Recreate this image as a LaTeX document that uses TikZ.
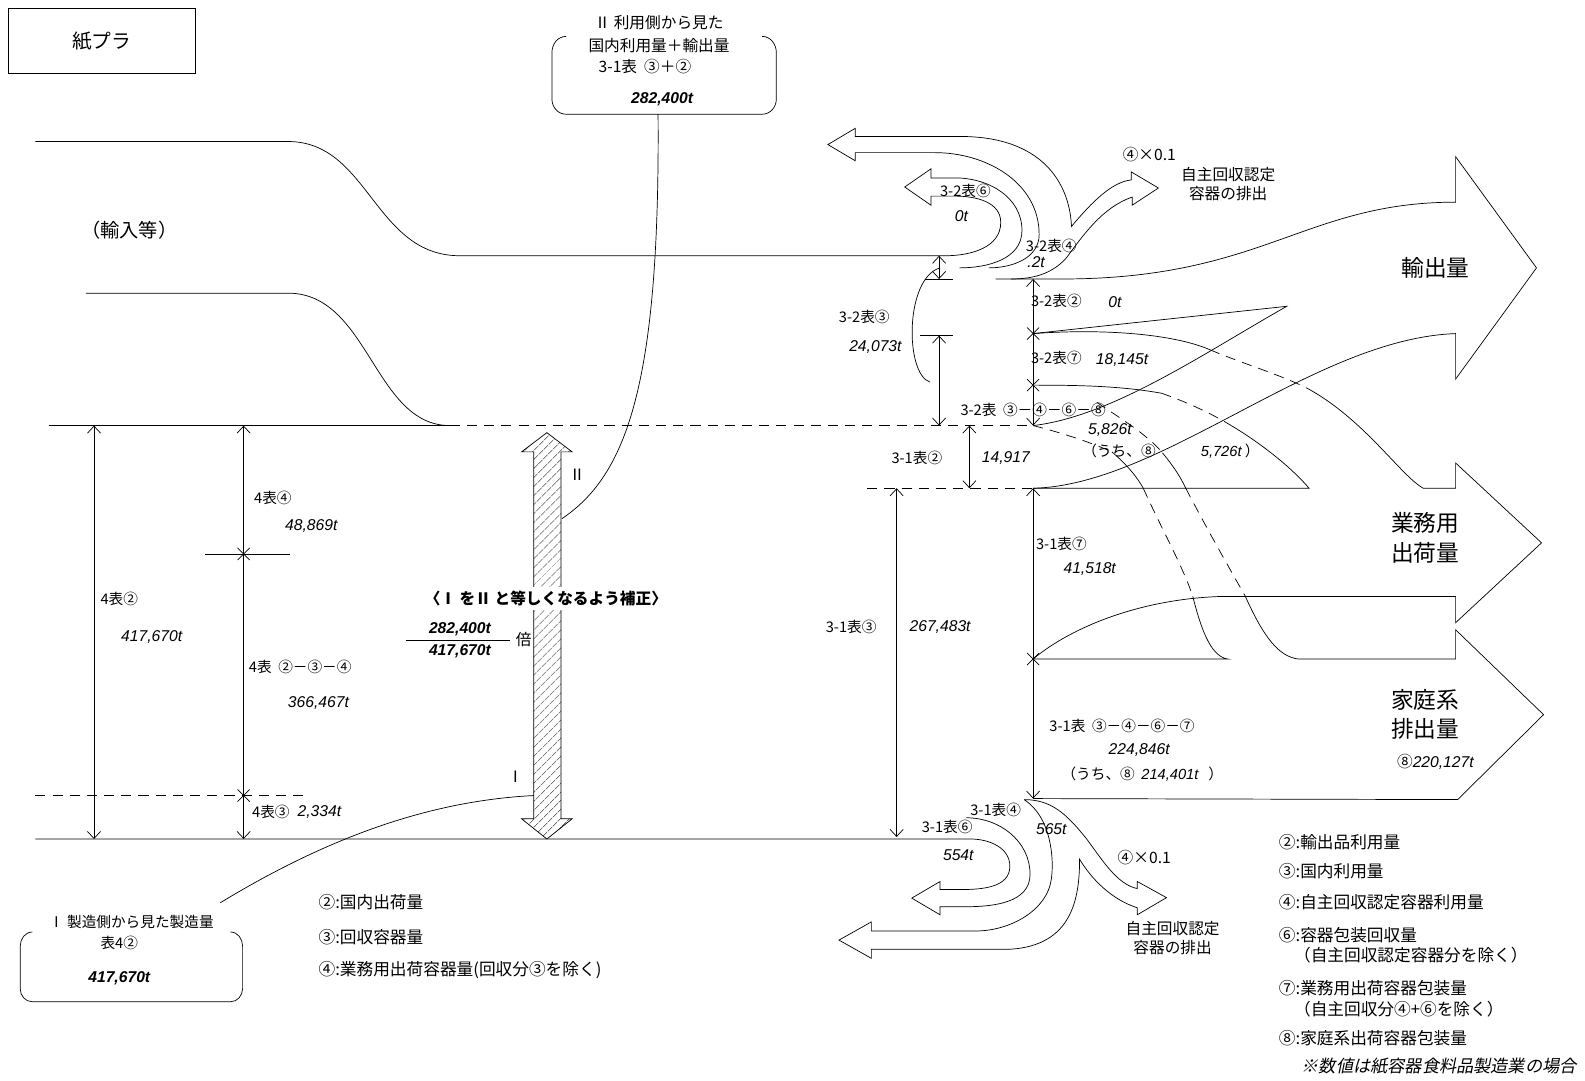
\documentclass[tikz,border=0pt]{standalone}
\usepackage{fontspec}
\setmainfont{Noto Sans CJK JP}
\newfontfamily\numfont{Liberation Sans}
\newfontfamily\slantfont{Noto Sans CJK JP}[FakeSlant=0.2]
\usetikzlibrary{arrows.meta,patterns.meta}

\tikzset{
  flow/.style={draw=black, line width=0.7pt},
  dashflow/.style={draw=black, line width=0.7pt, dash pattern=on 10pt off 7pt},
  dimline/.style={draw=black, line width=0.7pt,
    {Straight Barb[length=7pt,width=13pt]}-{Straight Barb[length=7pt,width=13pt]}},
  hatcharrow/.style={draw=black, line width=0.7pt,
    pattern={Lines[angle=45,distance=6.5pt,line width=0.5pt]}},
  lbl/.style={font=\fontsize{14.5}{16}\selectfont, inner sep=1pt},
  num/.style={font=\fontsize{15.5}{17}\selectfont\numfont\itshape, inner sep=1pt},
  bnum/.style={font=\fontsize{15.5}{17}\selectfont\numfont\bfseries\itshape, inner sep=1pt},
  boxtxt/.style={font=\fontsize{15.5}{18}\selectfont, inner sep=1pt},
  legend/.style={font=\fontsize{16.5}{19}\selectfont, anchor=west, inner sep=0pt},
  bigtxt/.style={font=\fontsize{22.5}{29}\selectfont, align=center, inner sep=0pt},
}
\newcommand{\xtick}[1]{\draw[flow] #1 +(-6,-6) -- +(6,6) #1 +(-6,6) -- +(6,-6);}
\newcommand{\itnum}[1]{{\numfont\itshape #1}}

\begin{document}
\begin{tikzpicture}[x=1pt,y=-1pt]
\useasboundingbox (0,0) rectangle (1568,1069);

% ---- title
\node[draw, line width=0.7pt, minimum width=185pt, minimum height=65pt,
      font=\fontsize{19.5}{22}\selectfont] (title) at (100.5,40.5) {紙プラ};

% ---- box II (user side)
\draw[flow] (560,36) to[out=180,in=90] (546,52) -- (546,98) to[out=-90,in=180] (560,113)
  -- (754,113) to[out=0,in=-90] (768,98) -- (768,52) to[out=90,in=0] (754,36);
\node[boxtxt] (IIa) at (652,22) {Ⅱ\ 利用側から見た};
\node[boxtxt] (IIb) at (652,45) {国内利用量＋輸出量};
\node[boxtxt] (IIc) at (638,66) {3-1表\ \ ③＋②};
\node[bnum]   (IIv) at (655,98) {282,400t};

% ---- box I (maker side)
\draw[flow] (32,922) to[out=180,in=90] (20,936) -- (20,978) to[out=-90,in=180] (32,991)
  -- (228,991) to[out=0,in=-90] (240,978) -- (240,936) to[out=90,in=0] (228,922);
\node[boxtxt, font=\fontsize{14.5}{16}\selectfont] (Ia) at (130,912) {Ⅰ\ 製造側から見た製造量};
\node[boxtxt, font=\fontsize{14.5}{16}\selectfont] (Ib) at (118,933) {表4②};
\node[bnum]   (Iv) at (118,968) {417,670t};

% ---- leaders
\draw[flow] (651,113) .. controls (653,380) and (620,470) .. (556,513);
\draw[flow] (218,893) .. controls (330,825) and (430,792) .. (528,787);

% ---- incoming flows (left)
\node[font=\fontsize{19}{22}\selectfont] (imp) at (128,228) {（輸入等）};
\draw[flow] (35,140) -- (285,140) .. controls (365,140) and (370,253) .. (455,253) -- (935,253)
  to[out=0,in=-90] (990,220) to[out=90,in=0] (945,194) -- (921,194) -- (921,203) -- (895,185)
  -- (921,167) -- (921,176) -- (945,176) to[out=0,in=90] (1011,228) to[out=-90,in=0] (949,265);
\draw[flow] (85,290) -- (285,290) .. controls (365,290) and (370,421) .. (445,421);
\draw[flow] (48,421) -- (445,421);
\draw[dashflow] (445,421) -- (1022,421);
\draw[dashflow] (35,787) -- (300,787);
\draw[dashflow] (858,483) -- (1022,483);

% ---- left dimensions
\draw[dimline] (93,421) -- (93,830);
\draw[dimline] (241,421) -- (241,830);
\draw[flow] (203,548) -- (287,548);
\xtick{(241,548)}
\xtick{(241,787)}
\node[lbl] (t42)  at (118,592) {4表②};
\node[num] (v42)  at (150,630) {417,670t};
\node[lbl] (t44)  at (270,493) {4表④};
\node[num] (v44)  at (308,520) {48,869t};
\node[lbl] (t4d)  at (297,660) {4表\ \ ②－③－④};
\node[num] (v4d)  at (315,695) {366,467t};
\node[lbl] (t43)  at (268,803) {4表③};
\node[num] (v43)  at (316,803) {2,334t};

% ---- correction arrow
\path[hatcharrow] (541,428) -- (566,447) -- (555,447) -- (555,810) -- (566,810) -- (541,830)
  -- (516,810) -- (528,810) -- (528,447) -- (516,447) -- cycle;
\node[fill=white, font=\fontsize{15.5}{18}\selectfont\bfseries, inner sep=4pt] (hosei)
  at (540,592) {〈Ⅰ をⅡ と等しくなるよう補正〉};
\node[boxtxt] (rII) at (571,470) {Ⅱ};
\node[boxtxt] (rI)  at (510,768) {Ⅰ};
\node[bnum] (fracA) at (455,622) {282,400t};
\node[bnum] (fracB) at (455,644) {417,670t};
\draw[flow] (402,633) -- (505,633);
\node[boxtxt] (bai) at (518,633) {倍};

% ---- bottom line and 3-1 U-turns
\draw[flow] (35,830) -- (960,830) to[out=0,in=90] (999,857) to[out=-90,in=0] (950,880)
  -- (930,880) -- (930,872) -- (902,888.5) -- (930,905) -- (930,897) -- (955,897)
  to[out=0,in=-90] (1019,865) to[out=90,in=0] (956,809);
\draw[flow] (1013,791) .. controls (1040,808) and (1043,850) .. (1040,870)
  .. controls (1036,900) and (1000,921) .. (965,921) -- (862,921) -- (862,912) -- (830,930)
  -- (862,948) -- (862,939) -- (1000,939) .. controls (1060,935) and (1068,890) .. (1068,850)
  .. controls (1080,870) and (1100,890) .. (1125,898) -- (1125,905) -- (1154,888) -- (1125,872)
  -- (1125,879) .. controls (1105,875) and (1090,850) .. (1075,830)
  .. controls (1055,805) and (1040,791) .. (1013,791);
\node[lbl] (t314) at (985,801) {3-1表④};
\node[lbl] (t316) at (937,818) {3-1表⑥};
\node[num] (v316) at (948,846) {554t};
\node[num] (v314) at (1040,820) {565t};
\node[boxtxt] (k2)  at (1132,848) {④×0.1};
\node[boxtxt, align=center] (j2) at (1160,928) {自主回収認定\\容器の排出};

% ---- top U-turn and export of self-collected containers
\draw[flow] (978,265) to[out=0,in=-90] (1028,232) to[out=90,in=0] (925,151) -- (846,151)
  -- (846,159) -- (819,143) -- (846,127) -- (846,135) -- (950,135)
  .. controls (1030,135) and (1058,180) .. (1060,224)
  .. controls (1080,200) and (1100,180) .. (1119,178) -- (1119,170) -- (1146,186)
  -- (1120,203) -- (1120,195) .. controls (1090,205) and (1070,235) .. (1055,255)
  .. controls (1040,272) and (1020,276) .. (1000,276);
\node[lbl] (t326) at (955,189) {3-2表⑥};
\node[num] (v326) at (951,214) {0t};
\node[lbl] (t324) at (1040,243) {3-2表④};
\node[num] (v324) at (1025,259) {.2t};
\node[boxtxt] (k1)  at (1137,153) {④×0.1};
\node[boxtxt, align=center] (j1) at (1215,182) {自主回収認定\\容器の排出};

% ---- export arrow
\draw[flow] (985,276) -- (1050,276) .. controls (1250,276) and (1290,200) .. (1440,200)
  -- (1440,155) -- (1520,265) -- (1440,375) -- (1440,330)
  .. controls (1300,335) and (1150,480) .. (1022,483);
\node[bigtxt] (exp) at (1420,265) {輸出量};

% ---- 3-2 dimensions
\draw[dimline] (929,253) -- (929,276);
\draw[flow] (915,276) -- (943,276);
\draw[dimline] (929,332) -- (929,421);
\draw[flow] (910,332) -- (943,332);
\draw[flow] (930,265) .. controls (895,275) and (895,370) .. (920,378);
\node[lbl] (t323) at (855,314) {3-2表③};
\node[num] (v323) at (866,343) {24,073t};
\draw[dimline] (1022,276) -- (1022,421);
\xtick{(1022,330)}
\xtick{(1022,381)}
\node[lbl] (t322) at (1045,298) {3-2表②};
\node[num] (v322) at (1103,299) {0t};
\node[lbl] (t327) at (1045,354) {3-2表⑦};
\node[num] (v327) at (1110,356) {18,145t};
\node[lbl] (t32d) at (1022,406) {3-2表\ \ ③－④－⑥－⑧};
\node[num] (v32d) at (1098,425) {5,826t};
\node[lbl] (t32u) at (1107,446) {（うち、⑧};
\node[lbl] (v32u) at (1217,446) {\itnum{5,726t}\ ）};

% ---- inner branches
\draw[flow] (1022,330) -- (1273,303) .. controls (1190,350) and (1100,412) .. (1022,421);
\draw[flow] (1022,330) .. controls (1090,325) and (1160,330) .. (1197,346);
\draw[dashflow] (1197,346) .. controls (1230,360) and (1265,370) .. (1293,384);
\draw[flow] (1293,384) .. controls (1350,415) and (1385,470) .. (1408,483) -- (1440,483)
  -- (1440,458) -- (1525,537) -- (1440,616) -- (1440,590) -- (1210,590)
  .. controls (1130,592) and (1060,620) .. (1022,652);
\draw[flow] (1022,381) .. controls (1070,381) and (1110,382) .. (1149,389);
\draw[dashflow] (1149,389) .. controls (1175,398) and (1200,410) .. (1218,421);
\draw[flow] (1218,421) .. controls (1250,440) and (1280,465) .. (1295,483) -- (1022,483);
\draw[dashflow] (1022,421) .. controls (1050,428) and (1080,438) .. (1100,447);
\draw[flow] (1100,447) .. controls (1115,460) and (1125,472) .. (1131,483);
\draw[dashflow] (1131,483) .. controls (1150,525) and (1170,560) .. (1180,590);
\draw[flow] (1180,590) .. controls (1190,630) and (1200,650) .. (1215,652) -- (1022,652);
\draw[dashflow] (1085,398) .. controls (1110,415) and (1135,430) .. (1150,448);
\draw[flow] (1150,448) .. controls (1160,460) and (1168,472) .. (1173,483);
\draw[dashflow] (1173,483) .. controls (1195,525) and (1215,560) .. (1232,590);
\draw[flow] (1232,590) .. controls (1250,630) and (1265,650) .. (1285,652) -- (1440,652)
  -- (1440,623) -- (1527,707) -- (1442,791) -- (1022,790);

\node[bigtxt] (biz) at (1410,532) {業務用\\出荷量};
\node[bigtxt] (home) at (1410,707) {家庭系\\排出量};
\node[font=\fontsize{15.5}{17}\selectfont, inner sep=1pt] (h8) at (1420,754) {⑧\itnum{220,127t}};

% ---- 3-1 dimensions
\draw[dimline] (959,421) -- (959,483);
\node[lbl] (t312) at (907,453) {3-1表②};
\node[num] (v312) at (995,453) {14,917};
\draw[dimline] (887,483) -- (887,828);
\node[lbl] (t313) at (842,620) {3-1表③};
\node[num] (v313) at (930,620) {267,483t};
\draw[dimline] (1022,483) -- (1022,790);
\xtick{(1022,652)}
\node[lbl] (t317) at (1050,538) {3-1表⑦};
\node[num] (v317) at (1078,563) {41,518t};
\node[lbl] (t31d) at (1110,718) {3-1表\ \ ③－④－⑥－⑦};
\node[num] (v31d) at (1127,742) {224,846t};
\node[lbl] (t31u) at (1130,766) {（うち、⑧\ \ \itnum{214,401t}\ \ \ ）};

% ---- legends
\node[legend] (la2) at (315,892) {②:国内出荷量};
\node[legend] (la3) at (315,927) {③:回収容器量};
\node[legend] (la4) at (315,960) {④:業務用出荷容器量(回収分③を除く)};
\node[legend] (lb2) at (1265,833) {②:輸出品利用量};
\node[legend] (lb3) at (1265,862) {③:国内利用量};
\node[legend] (lb4) at (1265,892) {④:自主回収認定容器利用量};
\node[legend] (lb6) at (1265,925) {⑥:容器包装回収量};
\node[legend] (lb6b) at (1280,945) {（自主回収認定容器分を除く）};
\node[legend] (lb7) at (1265,978) {⑦:業務用出荷容器包装量};
\node[legend] (lb7b) at (1280,998) {（自主回収分④+⑥を除く）};
\node[legend] (lb8) at (1265,1027) {⑧:家庭系出荷容器包装量};
\node[font=\fontsize{17}{19}\selectfont\slantfont, anchor=east, inner sep=0pt] (note)
  at (1560,1055) {※数値は紙容器食料品製造業の場合};

\end{tikzpicture}
\end{document}
